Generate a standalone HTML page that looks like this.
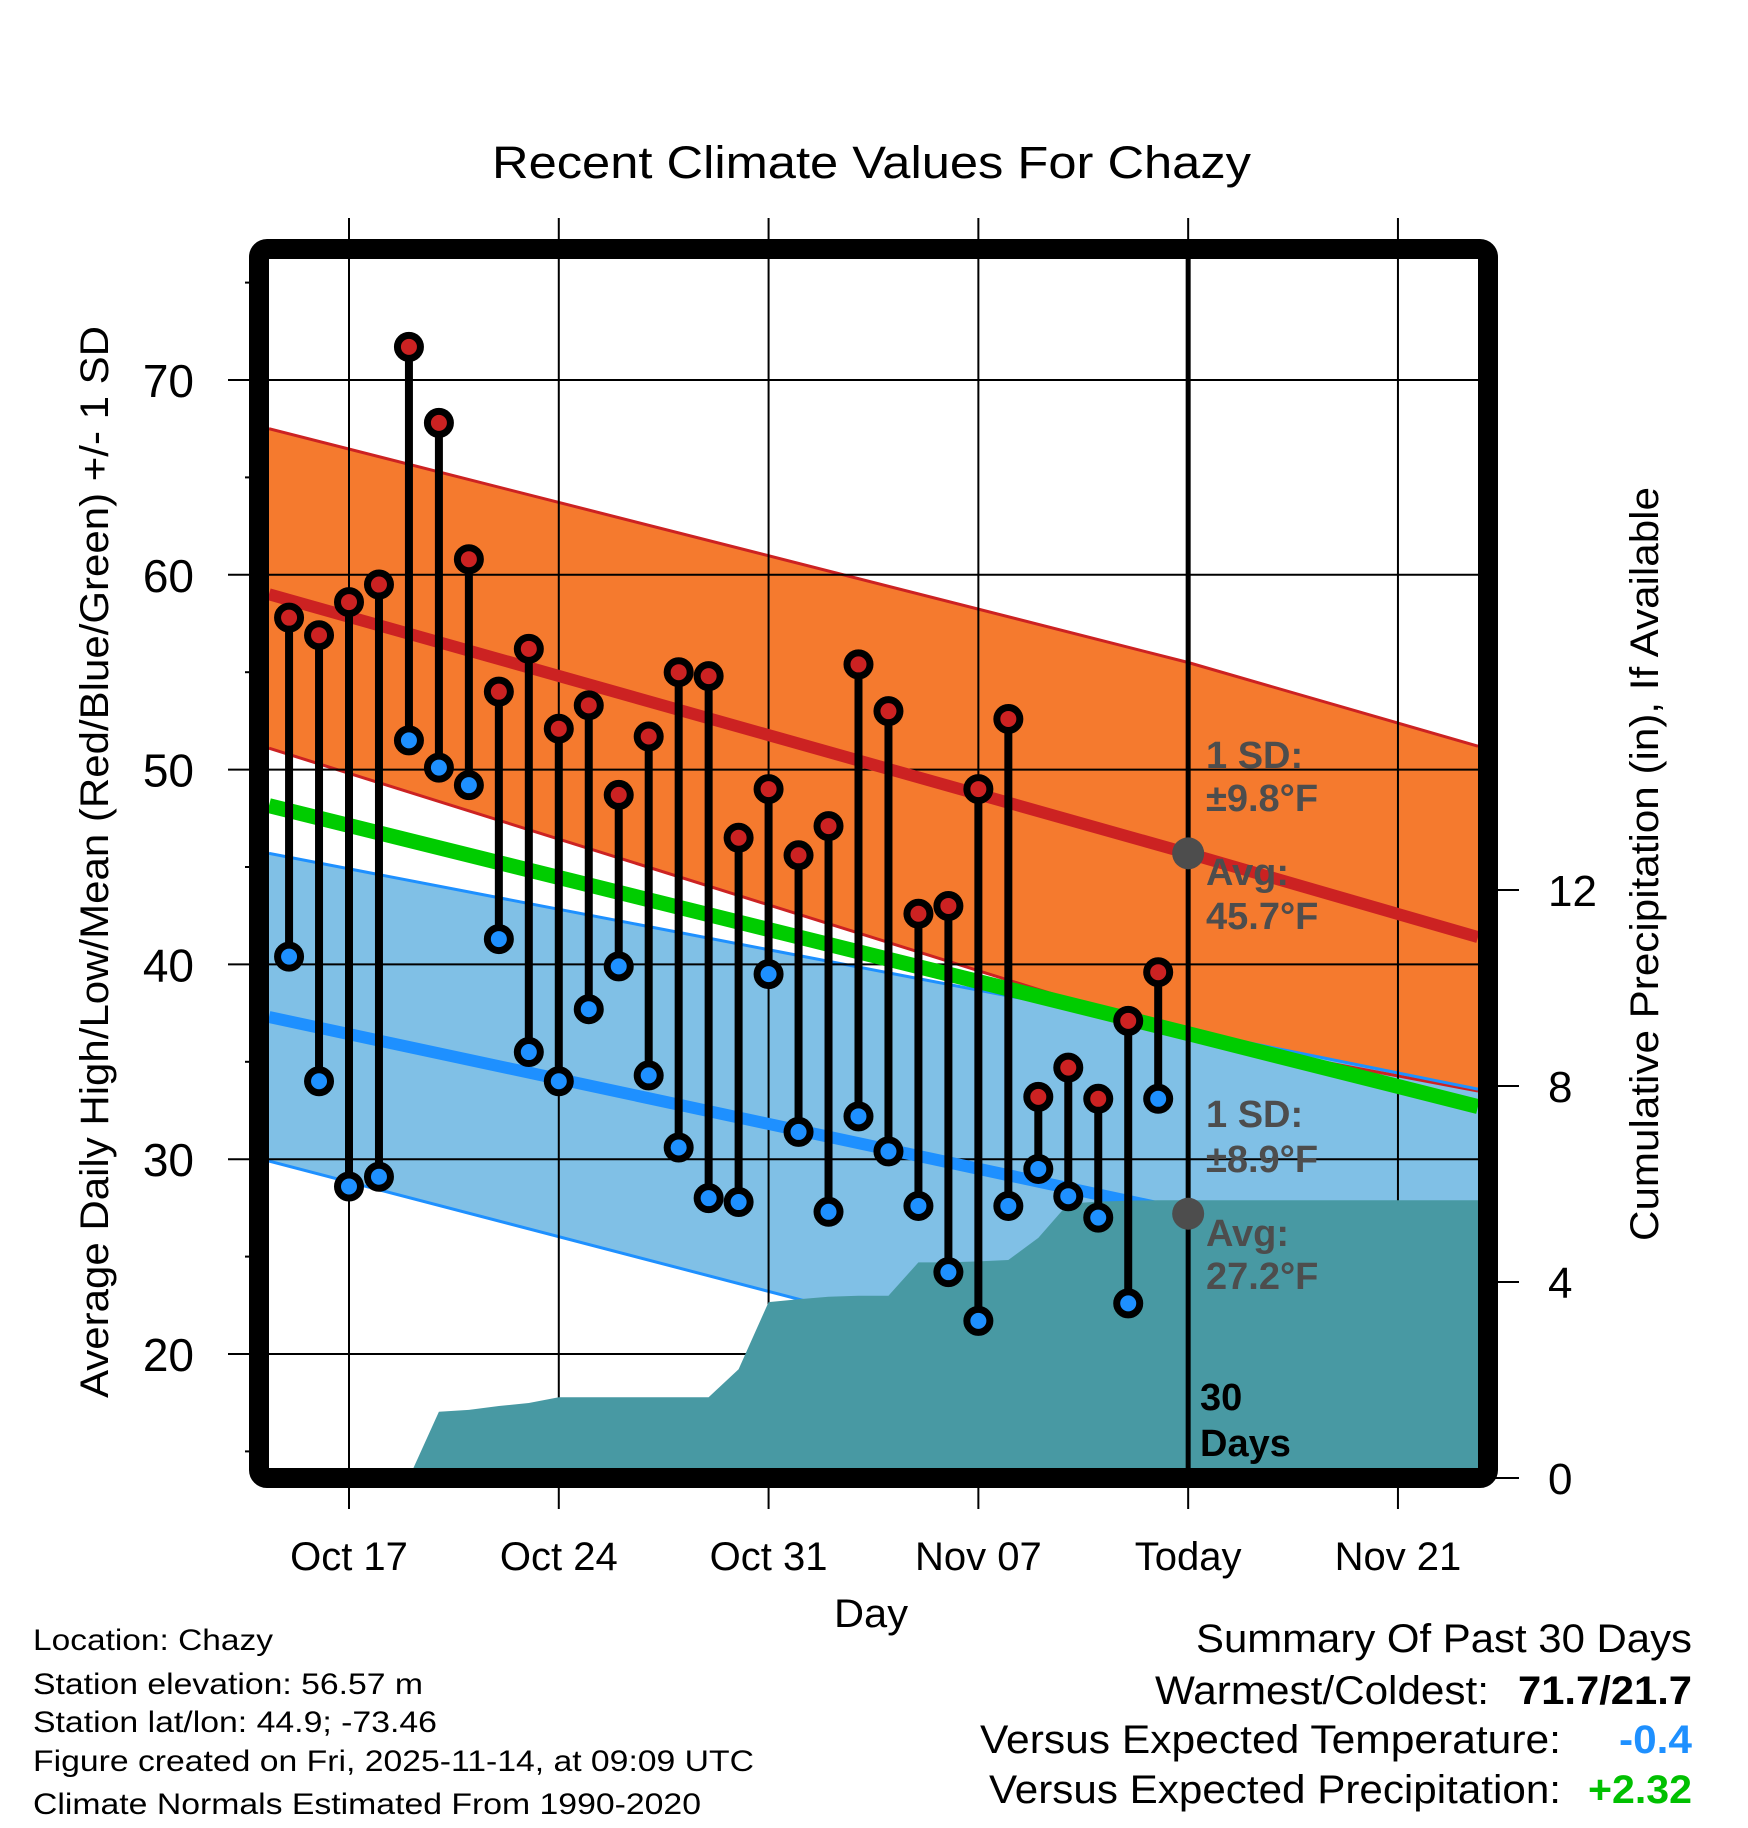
<!DOCTYPE html>
<html><head><meta charset="utf-8">
<style>
html,body{margin:0;padding:0;background:#fff;}
svg{display:block;font-family:"Liberation Sans",Arial,sans-serif;}
</style></head>
<body>
<svg id="chart" width="1748" height="1828" viewBox="0 0 1748 1828" xmlns="http://www.w3.org/2000/svg">
<rect width="1748" height="1828" fill="#fff"/>
<defs><clipPath id="plotclip"><rect x="269" y="259" width="1209" height="1209"/></clipPath></defs>
<text x="492" y="178" font-size="45" textLength="759" lengthAdjust="spacingAndGlyphs">Recent Climate Values For Chazy</text>
<g id="plot" clip-path="url(#plotclip)"></g>
<g id="axes"></g>
<rect x="259" y="249" width="1229" height="1229" fill="none" stroke="#000" stroke-width="20" rx="8"/>
<text transform="translate(108,862) rotate(-90)" text-anchor="middle" font-size="40" textLength="1072" lengthAdjust="spacingAndGlyphs">Average Daily High/Low/Mean (Red/Blue/Green) +/- 1 SD</text>
<text transform="translate(1658,864) rotate(-90)" text-anchor="middle" font-size="40" textLength="754" lengthAdjust="spacingAndGlyphs">Cumulative Precipitation (in), If Available</text>
<text x="871" y="1627" text-anchor="middle" font-size="40" textLength="74" lengthAdjust="spacingAndGlyphs">Day</text>
<g font-size="30">
<text x="33" y="1650" textLength="240" lengthAdjust="spacingAndGlyphs">Location: Chazy</text>
<text x="33" y="1694" textLength="390" lengthAdjust="spacingAndGlyphs">Station elevation: 56.57 m</text>
<text x="33" y="1732" textLength="404" lengthAdjust="spacingAndGlyphs">Station lat/lon: 44.9; -73.46</text>
<text x="33" y="1771" textLength="721" lengthAdjust="spacingAndGlyphs">Figure created on Fri, 2025-11-14, at 09:09 UTC</text>
<text x="33" y="1814" textLength="668" lengthAdjust="spacingAndGlyphs">Climate Normals Estimated From 1990-2020</text>
</g>
<g font-size="40">
<text x="1196" y="1652" textLength="496" lengthAdjust="spacingAndGlyphs">Summary Of Past 30 Days</text>
<text x="1155" y="1704" textLength="334" lengthAdjust="spacingAndGlyphs">Warmest/Coldest:</text>
<text x="1518" y="1704" font-weight="bold" textLength="174" lengthAdjust="spacingAndGlyphs">71.7/21.7</text>
<text x="980" y="1753" textLength="581" lengthAdjust="spacingAndGlyphs">Versus Expected Temperature:</text>
<text x="1619" y="1753" font-weight="bold" fill="#1e90ff" textLength="73" lengthAdjust="spacingAndGlyphs">-0.4</text>
<text x="989" y="1803" textLength="572" lengthAdjust="spacingAndGlyphs">Versus Expected Precipitation:</text>
<text x="1588" y="1803" font-weight="bold" fill="#00c000" textLength="104" lengthAdjust="spacingAndGlyphs">+2.32</text>
</g>
</svg>
<script>
// ---- data ----
const days = ["Oct15","Oct16","Oct17","Oct18","Oct19","Oct20","Oct21","Oct22","Oct23","Oct24","Oct25","Oct26","Oct27","Oct28","Oct29","Oct30","Oct31","Nov01","Nov02","Nov03","Nov04","Nov05","Nov06","Nov07","Nov08","Nov09","Nov10","Nov11","Nov12","Nov13"];
const highs = [57.8,56.9,58.6,59.5,71.7,67.8,60.8,54.0,56.2,52.1,53.3,48.7,51.7,55.0,54.8,46.5,49.0,45.6,47.1,55.4,53.0,42.6,43.0,49.0,52.6,33.2,34.7,33.1,37.1,39.6];
const lows = [40.4,34.0,28.6,29.1,51.5,50.1,49.2,41.3,35.5,34.0,37.7,39.9,34.3,30.6,28.0,27.8,39.5,31.4,27.3,32.2,30.4,27.6,24.2,21.7,27.6,29.5,28.1,27.0,22.6,33.1];
const precip = [0,0,0,0,0,1.35,1.39,1.47,1.53,1.65,1.65,1.65,1.65,1.65,1.65,2.22,3.59,3.65,3.70,3.72,3.72,4.40,4.40,4.42,4.45,4.90,5.60,5.64,5.66,5.67,5.67];
const normDays = [-2.67, 28, 37.67];
const hiMean = [59.0, 45.7, 41.4];
const hiUpper = [67.5, 55.5, 51.2];
const hiLower = [51.1, 36.3, 33.5];
const loMean = [37.3, 27.2, 24.0];
const loUpper = [45.7, 36.6, 33.6];
const loLower = [29.9, 17.6, 13.8];
const yTicks = [20,30,40,50,60,70];
const y2Ticks = [0,4,8,12];
const xTickLabels = ["Oct 17","Oct 24","Oct 31","Nov 07","Today","Nov 21"];
const xTickDays = [0,7,14,21,28,35];
const todayDay = 28;

// ---- scales ----
const X = d => 349 + d*29.97;          // d = days since Oct 17
const Y = v => 380 + (70 - v)*19.48;   // temperature
const Y2 = p => 1478 - p*49;           // precipitation
const NS = "http://www.w3.org/2000/svg";
const plot = document.getElementById('plot');
const axes = document.getElementById('axes');
function mk(tag, attrs, parent){const e=document.createElementNS(NS,tag);for(const k in attrs)e.setAttribute(k,attrs[k]);parent.appendChild(e);return e;}
const pts = (ds, vs, f) => ds.map((d,i)=>X(d).toFixed(1)+','+f(vs[i]).toFixed(1));

let e;
e = mk('polygon',{points:pts(normDays,hiUpper,Y).concat(pts(normDays,hiLower,Y).reverse()).join(' '),fill:'#f57a2e'},plot);


e = mk('polygon',{points:pts(normDays,loUpper,Y).concat(pts(normDays,loLower,Y).reverse()).join(' '),fill:'#80c0e6'},plot);


[[hiUpper,'#cc2222','high-band-upper'],[hiLower,'#cc2222','high-band-lower'],[loUpper,'#1e90ff','low-band-upper'],[loLower,'#1e90ff','low-band-lower']].forEach(b=>{
  const l = mk('polyline',{points:pts(normDays,b[0],Y).join(' '),fill:'none',stroke:b[1],'stroke-width':3},plot);
  
  
});
yTicks.forEach(v=>{
  const g = mk('line',{x1:259,x2:1488,y1:Y(v),y2:Y(v),stroke:'#000','stroke-width':2},plot);
  
  
});
xTickDays.forEach(d=>{
  const g = mk('line',{x1:X(d),x2:X(d),y1:249,y2:1478,stroke:'#000','stroke-width':2},plot);
  
  
});
const meanVals = hiMean.map((h,i)=>(h+loMean[i])/2);
e = mk('polyline',{points:pts(normDays,meanVals,Y).join(' '),fill:'none',stroke:'#00cc00','stroke-width':15},plot);


e = mk('polyline',{points:pts(normDays,hiMean,Y).join(' '),fill:'none',stroke:'#cc2222','stroke-width':12},plot);


e = mk('polyline',{points:pts(normDays,loMean,Y).join(' '),fill:'none',stroke:'#1e90ff','stroke-width':12},plot);


const pd = precip.map((p,i)=>i-2);
let pp = pts(pd,precip,Y2);
pp.push(X(40).toFixed(1)+','+Y2(precip[precip.length-1]).toFixed(1));
pp.push(X(40)+','+Y2(-1)); pp.push(X(-3)+','+Y2(-1)); pp.push(X(-3)+','+Y2(0));
e = mk('polygon',{points:pp.join(' '),fill:'#4899a3'},plot);


e = mk('line',{x1:X(todayDay),x2:X(todayDay),y1:249,y2:1478,stroke:'#000','stroke-width':5},plot);


[[hiMean[1],'high-avg-marker'],[loMean[1],'low-avg-marker']].forEach(a=>{
  const c = mk('circle',{cx:X(todayDay),cy:Y(a[0]),r:16,fill:'#4d4d4d'},plot);
  
  
});
highs.forEach((h,i)=>{
  const x = X(i-2);
  const s = mk('line',{x1:x,x2:x,y1:Y(h),y2:Y(lows[i]),stroke:'#000','stroke-width':8},plot);
  
  
  const c1 = mk('circle',{cx:x,cy:Y(h),r:11.5,fill:'#cc2222',stroke:'#000','stroke-width':7},plot);
  
  
  const c2 = mk('circle',{cx:x,cy:Y(lows[i]),r:11.5,fill:'#1e90ff',stroke:'#000','stroke-width':7},plot);
  
  
});
const ann = [["1 SD:",768],["±9.8°F",811],["Avg:",885],["45.7°F",929],["1 SD:",1127],["±8.9°F",1172],["Avg:",1246],["27.2°F",1289]];
ann.forEach(a=>{
  const t = mk('text',{x:1206,y:a[1],'font-size':38,'font-weight':'bold',fill:'#4d4d4d'},plot);
  t.textContent = a[0];
  
  
});
[["30",1410],["Days",1456]].forEach(a=>{
  const t = mk('text',{x:1200,y:a[1],'font-size':38,'font-weight':'bold',fill:'#000'},plot);
  t.textContent = a[0];
  
  
});
for(let v=15; v<=75; v+=5){
  const major = v%10===0;
  const t = mk('line',{x1:major?228:245,x2:259,y1:Y(v),y2:Y(v),stroke:'#000','stroke-width':2},axes);
  
  
}
yTicks.forEach(v=>{
  const t = mk('text',{x:194,y:Y(v)+17,'text-anchor':'end','font-size':46},axes);
  t.textContent = v;
  
  
});
y2Ticks.forEach(p=>{
  const l = mk('line',{x1:1488,x2:1519,y1:Y2(p),y2:Y2(p),stroke:'#000','stroke-width':2},axes);
  
  
  const t = mk('text',{x:1548,y:Y2(p)+16,'font-size':44},axes);
  t.textContent = p;
  
  
});
xTickDays.forEach((d,i)=>{
  const l = mk('line',{x1:X(d),x2:X(d),y1:218,y2:249,stroke:'#000','stroke-width':2},axes);
  
  
  const l2 = mk('line',{x1:X(d),x2:X(d),y1:1488,y2:1509,stroke:'#000','stroke-width':2},axes);
  
  
  const t = mk('text',{x:X(d),y:1570,'text-anchor':'middle','font-size':40},axes);
  t.textContent = xTickLabels[i];
  
  
});
</script>
</body></html>
